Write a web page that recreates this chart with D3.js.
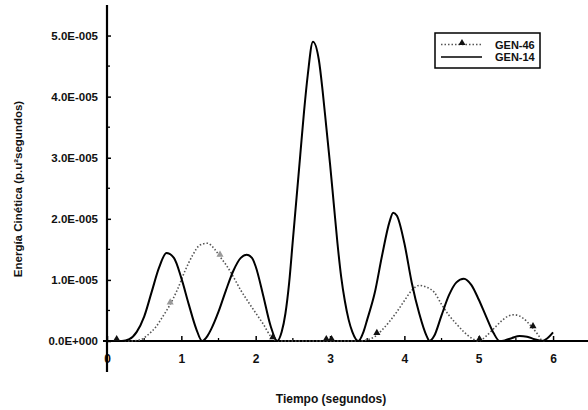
<!DOCTYPE html>
<html>
<head>
<meta charset="utf-8">
<script src="https://cdn.jsdelivr.net/npm/d3@7"></script>
<style>
  body { margin:0; background:#fff; }
  svg { display:block; }
  text { font-family: "Liberation Sans", Arial, sans-serif; font-weight: bold; fill:#111; }
</style>
</head>
<body>
<svg id="chart" width="588" height="410"></svg>
<script>
// ---- data (values in 1e-5 units of p.u.^2 segundos) ----
const gen14Time = [0, 0.1, 0.2, 0.3, 0.4, 0.5, 0.6, 0.7, 0.8, 0.9, 1.0, 1.1, 1.2, 1.28,
  1.35, 1.4, 1.5, 1.6, 1.7, 1.8, 1.88, 1.95, 2.0, 2.1, 2.2, 2.29,
  2.35, 2.4, 2.45, 2.5, 2.55, 2.6, 2.65, 2.7, 2.77, 2.85, 2.9, 2.95, 3.0, 3.05, 3.1, 3.15, 3.2, 3.25, 3.3, 3.38,
  3.45, 3.5, 3.6, 3.7, 3.8, 3.85, 3.9, 4.0, 4.1, 4.2, 4.3, 4.34,
  4.4, 4.5, 4.6, 4.7, 4.8, 4.9, 5.0, 5.1, 5.2, 5.28,
  5.35, 5.45, 5.55, 5.65, 5.75, 5.85, 5.92, 6.0];
const gen14Value = [0, 0, 0, 0.03, 0.15, 0.4, 0.8, 1.2, 1.44, 1.36, 1.03, 0.6, 0.2, 0,
  0.08, 0.19, 0.48, 0.83, 1.15, 1.36, 1.41, 1.36, 1.22, 0.75, 0.25, 0,
  0.15, 0.45, 0.95, 1.65, 2.35, 3.05, 3.75, 4.35, 4.9, 4.6, 4.1, 3.5, 2.9, 2.25, 1.6, 1.05, 0.65, 0.35, 0.15, 0,
  0.15, 0.35, 0.78, 1.4, 1.95, 2.1, 2.05, 1.6, 0.95, 0.45, 0.08, 0,
  0.08, 0.42, 0.75, 0.96, 1.02, 0.92, 0.68, 0.4, 0.13, 0,
  0.01, 0.05, 0.08, 0.07, 0.03, 0, 0.04, 0.14];

const gen46Time = [0, 0.13, 0.3, 0.45, 0.55, 0.65, 0.75, 0.85, 0.95, 1.05, 1.15, 1.25, 1.35, 1.45, 1.52, 1.6, 1.7, 1.8, 1.9, 2.0, 2.1, 2.2, 2.25, 2.35,
  2.95, 3.02, 3.4, 3.5, 3.6, 3.7, 3.8, 3.9, 4.0, 4.1, 4.2, 4.3, 4.4, 4.5, 4.6, 4.7, 4.8, 4.9, 5.0,
  5.1, 5.2, 5.3, 5.4, 5.48, 5.6, 5.7, 5.8, 5.86, 5.9];
const gen46Value = [0, 0, 0, 0.02, 0.1, 0.22, 0.4, 0.6, 0.85, 1.15, 1.4, 1.57, 1.6, 1.5, 1.38, 1.25, 1.05, 0.83, 0.64, 0.46, 0.28, 0.08, 0.02, 0,
  0, 0, 0, 0.02, 0.07, 0.18, 0.32, 0.48, 0.66, 0.83, 0.91, 0.88, 0.8, 0.6, 0.42, 0.28, 0.15, 0.05, 0,
  0.08, 0.2, 0.32, 0.41, 0.43, 0.37, 0.25, 0.1, 0, 0];

const markerTime  = [0.13, 0.85, 1.52, 2.23, 2.95, 3.02, 3.63, 5.01, 5.73];
const markerValue = [0, 0.6, 1.38, 0.03, 0, 0, 0.1, 0, 0.21];

const yTicks = [0, 1, 2, 3, 4, 5];
const yTickLabels = ["0.0E+000", "1.0E-005", "2.0E-005", "3.0E-005", "4.0E-005", "5.0E-005"];
const xTicks = [0, 1, 2, 3, 4, 5, 6];
const xTickLabels = ["0", "1", "2", "3", "4", "5", "6"];
const seriesNames = ["GEN-46", "GEN-14"];
const xTitle = "Tiempo (segundos)";
const yTitle = "Energía Cinética (p.u²segundos)";

// ---- layout ----
const svg = d3.select("#chart");
const x = d3.scaleLinear().domain([0, 6.47]).range([107, 588]);
const y = d3.scaleLinear().domain([0, 5.5]).range([341, 5]);

// axes
const xAxis = d3.axisBottom(x).tickValues(xTicks).tickFormat((d,i) => xTickLabels[i]).tickSize(-5).tickSizeOuter(0);
const gx = svg.append("g").attr("transform", `translate(0,${y(0)})`).call(xAxis);
gx.select(".domain").attr("stroke", "#000").attr("stroke-width", 2.2).attr("d", `M103,0H588`);
gx.selectAll(".tick line").attr("stroke", "#000").attr("stroke-width", 1.5);
gx.selectAll(".tick text").attr("y", 13).attr("font-size", 12).attr("font-weight", "bold")
  .attr("font-family", "'Liberation Sans', Arial, sans-serif").attr("fill", "#111");
// x minor ticks
svg.append("g").selectAll("line").data(d3.range(0.5, 6.5, 1)).join("line")
  .attr("x1", d => x(d)).attr("x2", d => x(d))
  .attr("y1", y(0)).attr("y2", y(0) - 3).attr("stroke", "#000").attr("stroke-width", 1.3);

const yAxis = d3.axisLeft(y).tickValues(yTicks).tickFormat((d,i) => yTickLabels[i]).tickSize(-4).tickSizeOuter(0);
const gy = svg.append("g").attr("transform", `translate(${x(0)},0)`).call(yAxis);
gy.select(".domain").attr("stroke", "#000").attr("stroke-width", 2.2).attr("d", `M0,${y(5.5)}V372`);
gy.selectAll(".tick line").attr("stroke", "#000").attr("stroke-width", 1.5);
gy.selectAll(".tick text").attr("x", -9).attr("font-size", 11.5).attr("font-weight", "bold")
  .attr("font-family", "'Liberation Sans', Arial, sans-serif").attr("fill", "#111");
// y minor ticks
svg.append("g").selectAll("line").data(d3.range(0.5, 5.5, 1)).join("line")
  .attr("x1", x(0)).attr("x2", x(0) + 3)
  .attr("y1", d => y(d)).attr("y2", d => y(d)).attr("stroke", "#000").attr("stroke-width", 1.3);

// titles
svg.append("text").attr("x", 331).attr("y", 403).attr("text-anchor", "middle").attr("font-size", 12).text(xTitle);
svg.append("text").attr("transform", "translate(22,189) rotate(-90)").attr("text-anchor", "middle").attr("font-size", 11.5).text(yTitle);

// lines
const line = d3.line().curve(d3.curveMonotoneX);
const d46 = gen46Time.map((t,i) => [x(t), y(gen46Value[i])]);
const d14 = gen14Time.map((t,i) => [x(t), y(gen14Value[i])]);

svg.append("path").attr("d", line(d46)).attr("fill", "none").attr("stroke", "#555")
  .attr("stroke-width", 1.6).attr("stroke-dasharray", "1.5,2");
svg.append("path").attr("d", line(d14)).attr("fill", "none").attr("stroke", "#000")
  .attr("stroke-width", 2);

// markers
const tri = d3.symbol().type(d3.symbolTriangle).size(22);
svg.append("g").selectAll("path").data(markerTime).join("path")
  .attr("d", tri)
  .attr("transform", (t,i) => `translate(${x(t)},${y(markerValue[i]) - 2})`)
  .attr("fill", (t,i) => (i === 1 || i === 2) ? "#999" : "#111");

// legend
const lg = svg.append("g");
lg.append("rect").attr("x", 435).attr("y", 33).attr("width", 105).attr("height", 35)
  .attr("fill", "#fff").attr("stroke", "#000").attr("stroke-width", 1.5);
lg.append("line").attr("x1", 441).attr("x2", 482).attr("y1", 44.5).attr("y2", 44.5)
  .attr("stroke", "#555").attr("stroke-width", 1.6).attr("stroke-dasharray", "1.5,2");
lg.append("path").attr("d", tri).attr("transform", "translate(462,43)").attr("fill", "#111");
lg.append("line").attr("x1", 441).attr("x2", 482).attr("y1", 57).attr("y2", 57)
  .attr("stroke", "#000").attr("stroke-width", 1.6);
lg.selectAll("text.lbl").data(seriesNames).join("text").attr("class", "lbl")
  .attr("x", 495).attr("y", (d,i) => 48.5 + i * 12.5).attr("font-size", 11).text(d => d);
</script>
</body>
</html>
